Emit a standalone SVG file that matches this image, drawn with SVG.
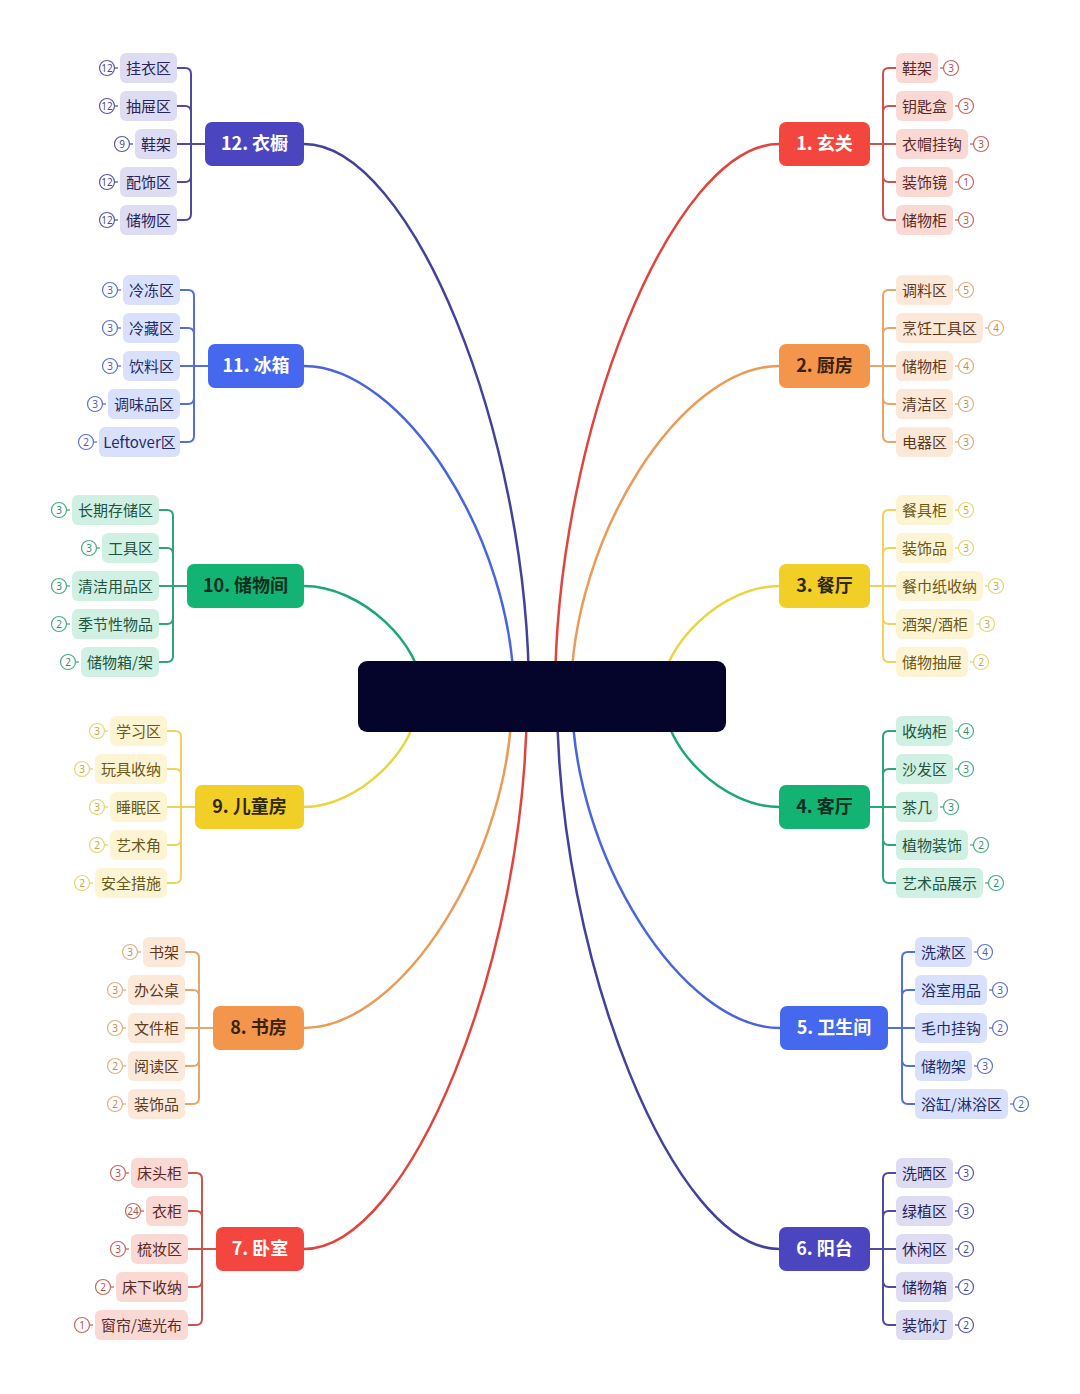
<svg xmlns="http://www.w3.org/2000/svg" width="1080" height="1394" viewBox="0 0 1080 1394">
<style>
.mt{font-family:"Noto Sans CJK SC","Noto Sans",sans-serif;font-size:18px;font-weight:600;text-anchor:middle}
.lt{font-family:"Noto Sans CJK SC","Noto Sans",sans-serif;font-size:15px;text-anchor:middle}
.bt{font-family:"Noto Sans","Liberation Sans",sans-serif;font-size:10px;text-anchor:middle}
.bc{fill:#fff;stroke-width:1.2}
.d{fill:none;stroke-width:1.3}
.con{fill:none;stroke-width:2.5;stroke-linecap:round}
.br{fill:none;stroke-width:2}
.cr{stroke:#e0443c}.co{stroke:#eb9b58}.cy{stroke:#e9d53f}.cg{stroke:#1aa874}.cb{stroke:#4965dc}.ci{stroke:#434199}
.sr{stroke:#c9554e}.so{stroke:#e5a56c}.sy{stroke:#ebd35c}.sg{stroke:#2ea577}.sb{stroke:#5470d8}.si{stroke:#4e4a9e}
.tr .m{fill:#f2463e}.tr .mt{fill:#fff}.tr .l{fill:#fad9d5}.tr .lt{fill:#5a2a26}.tr .bc,.tr .d{stroke:#c9655e}.tr .bt{fill:#b0524c}
.to .m{fill:#f3954a}.to .mt{fill:#3b220f}.to .l{fill:#fce8d8}.to .lt{fill:#5c3a1e}.to .bc,.to .d{stroke:#e0ae80}.to .bt{fill:#c48a55}
.ty .m{fill:#f1cf27}.ty .mt{fill:#2e2708}.ty .l{fill:#fdf4d3}.ty .lt{fill:#6a5818}.ty .bc,.ty .d{stroke:#e8d472}.ty .bt{fill:#c2ab3c}
.tg .m{fill:#13b374}.tg .mt{fill:#0b2e20}.tg .l{fill:#cff0e2}.tg .lt{fill:#1e5440}.tg .bc,.tg .d{stroke:#47ad86}.tg .bt{fill:#2f8e69}
.tb .m{fill:#4568ee}.tb .mt{fill:#fff}.tb .l{fill:#d9e0fb}.tb .lt{fill:#1f2c66}.tb .bc,.tb .d{stroke:#5d72d0}.tb .bt{fill:#4a5db8}
.ti .m{fill:#4b46bf}.ti .mt{fill:#fff}.ti .l{fill:#dddcf3}.ti .lt{fill:#26245a}.ti .bc,.ti .d{stroke:#5a57a5}.ti .bt{fill:#4a4890}
</style>
<rect width="1080" height="1394" fill="#ffffff"/>
<g id="connectors">
<path class="con ci" d="M304 144C410 144 529 431 529 696"/>
<path class="con cb" d="M304 366C402 366 514 538 514 696"/>
<path class="con cg" d="M304 586C360 586 423 643 423 696"/>
<path class="con cr" d="M779 144C674 144 555 431 555 696"/>
<path class="con co" d="M779 366C681 366 571 538 571 696"/>
<path class="con cy" d="M779 586C724 586 661 643 661 696"/>
<path class="con cy" d="M304 807C358 807 419 749 419 696"/>
<path class="con co" d="M304 1028C402 1028 512 855 512 696"/>
<path class="con cr" d="M304 1249C409 1249 527 961 527 696"/>
<path class="con cg" d="M779 807C724 807 663 749 663 696"/>
<path class="con cb" d="M780 1028C682 1028 572 855 572 696"/>
<path class="con ci" d="M779 1249C675 1249 557 961 557 696"/>
<path class="br sr" d="M870 144H896 M883 144V74Q883 68 889 68H896 M883 144V112Q883 106 889 106H896 M883 144V176Q883 182 889 182H896 M883 144V214Q883 220 889 220H896"/>
<path class="br so" d="M870 366H896 M883 366V296Q883 290 889 290H896 M883 366V334Q883 328 889 328H896 M883 366V398Q883 404 889 404H896 M883 366V436Q883 442 889 442H896"/>
<path class="br sy" d="M870 586H896 M883 586V516Q883 510 889 510H896 M883 586V554Q883 548 889 548H896 M883 586V618Q883 624 889 624H896 M883 586V656Q883 662 889 662H896"/>
<path class="br sg" d="M870 807H896 M883 807V737Q883 731 889 731H896 M883 807V775Q883 769 889 769H896 M883 807V839Q883 845 889 845H896 M883 807V877Q883 883 889 883H896"/>
<path class="br sb" d="M888 1028H915 M902 1028V958Q902 952 908 952H915 M902 1028V996Q902 990 908 990H915 M902 1028V1060Q902 1066 908 1066H915 M902 1028V1098Q902 1104 908 1104H915"/>
<path class="br si" d="M870 1249H896 M883 1249V1179Q883 1173 889 1173H896 M883 1249V1217Q883 1211 889 1211H896 M883 1249V1281Q883 1287 889 1287H896 M883 1249V1319Q883 1325 889 1325H896"/>
<path class="br si" d="M205 144H177 M191 144V74Q191 68 185 68H177 M191 144V112Q191 106 185 106H177 M191 144V176Q191 182 185 182H177 M191 144V214Q191 220 185 220H177"/>
<path class="br sb" d="M208 366H180 M194 366V296Q194 290 188 290H180 M194 366V334Q194 328 188 328H180 M194 366V398Q194 404 188 404H180 M194 366V436Q194 442 188 442H180"/>
<path class="br sg" d="M187 586H159 M173 586V516Q173 510 167 510H159 M173 586V554Q173 548 167 548H159 M173 586V618Q173 624 167 624H159 M173 586V656Q173 662 167 662H159"/>
<path class="br sy" d="M195 807H167 M181 807V737Q181 731 175 731H167 M181 807V775Q181 769 175 769H167 M181 807V839Q181 845 175 845H167 M181 807V877Q181 883 175 883H167"/>
<path class="br so" d="M213 1028H185 M199 1028V958Q199 952 193 952H185 M199 1028V996Q199 990 193 990H185 M199 1028V1060Q199 1066 193 1066H185 M199 1028V1098Q199 1104 193 1104H185"/>
<path class="br sr" d="M216 1249H188 M202 1249V1179Q202 1173 196 1173H188 M202 1249V1217Q202 1211 196 1211H188 M202 1249V1281Q202 1287 196 1287H188 M202 1249V1319Q202 1325 196 1325H188"/>
</g>
<g id="center"><rect x="358" y="661" width="368" height="71" rx="9" fill="#05052c"/></g>

<g id="n1" class="tr"><rect class="m" x="779" y="122" width="91" height="44" rx="7"/><text class="mt" x="824.5" y="150">1. 玄关</text></g>
<g id="n2" class="to"><rect class="m" x="779" y="344" width="91" height="44" rx="7"/><text class="mt" x="824.5" y="372">2. 厨房</text></g>
<g id="n3" class="ty"><rect class="m" x="779" y="564" width="91" height="44" rx="7"/><text class="mt" x="824.5" y="592">3. 餐厅</text></g>
<g id="n4" class="tg"><rect class="m" x="779" y="785" width="91" height="44" rx="7"/><text class="mt" x="824.5" y="813">4. 客厅</text></g>
<g id="n5" class="tb"><rect class="m" x="780" y="1006" width="108" height="44" rx="7"/><text class="mt" x="834" y="1034">5. 卫生间</text></g>
<g id="n6" class="ti"><rect class="m" x="779" y="1227" width="91" height="44" rx="7"/><text class="mt" x="824.5" y="1255">6. 阳台</text></g>
<g id="n7" class="tr"><rect class="m" x="216" y="1227" width="88" height="44" rx="7"/><text class="mt" x="260" y="1255">7. 卧室</text></g>
<g id="n8" class="to"><rect class="m" x="213" y="1006" width="91" height="44" rx="7"/><text class="mt" x="258.5" y="1034">8. 书房</text></g>
<g id="n9" class="ty"><rect class="m" x="195" y="785" width="109" height="44" rx="7"/><text class="mt" x="249.5" y="813">9. 儿童房</text></g>
<g id="n10" class="tg"><rect class="m" x="187" y="564" width="117" height="44" rx="7"/><text class="mt" x="245.5" y="592">10. 储物间</text></g>
<g id="n11" class="tb"><rect class="m" x="208" y="344" width="96" height="44" rx="7"/><text class="mt" x="256" y="372">11. 冰箱</text></g>
<g id="n12" class="ti"><rect class="m" x="205" y="122" width="99" height="44" rx="7"/><text class="mt" x="254.5" y="150">12. 衣橱</text></g>

<!-- group 1 -->
<g id="n1-1" class="tr"><rect class="l" x="896" y="53" width="42" height="30" rx="6"/><text class="lt" x="917" y="73.5">鞋架</text><path class="d" d="M940 68H943.5"/><circle class="bc" cx="951" cy="68" r="7.5"/><text class="bt" x="951" y="71.5">3</text></g>
<g id="n1-2" class="tr"><rect class="l" x="896" y="91" width="57" height="30" rx="6"/><text class="lt" x="924.5" y="111.5">钥匙盒</text><path class="d" d="M955 106H958.5"/><circle class="bc" cx="966" cy="106" r="7.5"/><text class="bt" x="966" y="109.5">3</text></g>
<g id="n1-3" class="tr"><rect class="l" x="896" y="129" width="72" height="30" rx="6"/><text class="lt" x="932" y="149.5">衣帽挂钩</text><path class="d" d="M970 144H973.5"/><circle class="bc" cx="981" cy="144" r="7.5"/><text class="bt" x="981" y="147.5">3</text></g>
<g id="n1-4" class="tr"><rect class="l" x="896" y="167" width="57" height="30" rx="6"/><text class="lt" x="924.5" y="187.5">装饰镜</text><path class="d" d="M955 182H958.5"/><circle class="bc" cx="966" cy="182" r="7.5"/><text class="bt" x="966" y="185.5">1</text></g>
<g id="n1-5" class="tr"><rect class="l" x="896" y="205" width="57" height="30" rx="6"/><text class="lt" x="924.5" y="225.5">储物柜</text><path class="d" d="M955 220H958.5"/><circle class="bc" cx="966" cy="220" r="7.5"/><text class="bt" x="966" y="223.5">3</text></g>
<!-- group 2 -->
<g id="n2-1" class="to"><rect class="l" x="896" y="275" width="57" height="30" rx="6"/><text class="lt" x="924.5" y="295.5">调料区</text><path class="d" d="M955 290H958.5"/><circle class="bc" cx="966" cy="290" r="7.5"/><text class="bt" x="966" y="293.5">5</text></g>
<g id="n2-2" class="to"><rect class="l" x="896" y="313" width="87" height="30" rx="6"/><text class="lt" x="939.5" y="333.5">烹饪工具区</text><path class="d" d="M985 328H988.5"/><circle class="bc" cx="996" cy="328" r="7.5"/><text class="bt" x="996" y="331.5">4</text></g>
<g id="n2-3" class="to"><rect class="l" x="896" y="351" width="57" height="30" rx="6"/><text class="lt" x="924.5" y="371.5">储物柜</text><path class="d" d="M955 366H958.5"/><circle class="bc" cx="966" cy="366" r="7.5"/><text class="bt" x="966" y="369.5">4</text></g>
<g id="n2-4" class="to"><rect class="l" x="896" y="389" width="57" height="30" rx="6"/><text class="lt" x="924.5" y="409.5">清洁区</text><path class="d" d="M955 404H958.5"/><circle class="bc" cx="966" cy="404" r="7.5"/><text class="bt" x="966" y="407.5">3</text></g>
<g id="n2-5" class="to"><rect class="l" x="896" y="427" width="57" height="30" rx="6"/><text class="lt" x="924.5" y="447.5">电器区</text><path class="d" d="M955 442H958.5"/><circle class="bc" cx="966" cy="442" r="7.5"/><text class="bt" x="966" y="445.5">3</text></g>
<!-- group 3 -->
<g id="n3-1" class="ty"><rect class="l" x="896" y="495" width="57" height="30" rx="6"/><text class="lt" x="924.5" y="515.5">餐具柜</text><path class="d" d="M955 510H958.5"/><circle class="bc" cx="966" cy="510" r="7.5"/><text class="bt" x="966" y="513.5">5</text></g>
<g id="n3-2" class="ty"><rect class="l" x="896" y="533" width="57" height="30" rx="6"/><text class="lt" x="924.5" y="553.5">装饰品</text><path class="d" d="M955 548H958.5"/><circle class="bc" cx="966" cy="548" r="7.5"/><text class="bt" x="966" y="551.5">3</text></g>
<g id="n3-3" class="ty"><rect class="l" x="896" y="571" width="87" height="30" rx="6"/><text class="lt" x="939.5" y="591.5">餐巾纸收纳</text><path class="d" d="M985 586H988.5"/><circle class="bc" cx="996" cy="586" r="7.5"/><text class="bt" x="996" y="589.5">3</text></g>
<g id="n3-4" class="ty"><rect class="l" x="896" y="609" width="78" height="30" rx="6"/><text class="lt" x="935" y="629.5">酒架/酒柜</text><path class="d" d="M976 624H979.5"/><circle class="bc" cx="987" cy="624" r="7.5"/><text class="bt" x="987" y="627.5">3</text></g>
<g id="n3-5" class="ty"><rect class="l" x="896" y="647" width="72" height="30" rx="6"/><text class="lt" x="932" y="667.5">储物抽屉</text><path class="d" d="M970 662H973.5"/><circle class="bc" cx="981" cy="662" r="7.5"/><text class="bt" x="981" y="665.5">2</text></g>
<!-- group 4 -->
<g id="n4-1" class="tg"><rect class="l" x="896" y="716" width="57" height="30" rx="6"/><text class="lt" x="924.5" y="736.5">收纳柜</text><path class="d" d="M955 731H958.5"/><circle class="bc" cx="966" cy="731" r="7.5"/><text class="bt" x="966" y="734.5">4</text></g>
<g id="n4-2" class="tg"><rect class="l" x="896" y="754" width="57" height="30" rx="6"/><text class="lt" x="924.5" y="774.5">沙发区</text><path class="d" d="M955 769H958.5"/><circle class="bc" cx="966" cy="769" r="7.5"/><text class="bt" x="966" y="772.5">3</text></g>
<g id="n4-3" class="tg"><rect class="l" x="896" y="792" width="42" height="30" rx="6"/><text class="lt" x="917" y="812.5">茶几</text><path class="d" d="M940 807H943.5"/><circle class="bc" cx="951" cy="807" r="7.5"/><text class="bt" x="951" y="810.5">3</text></g>
<g id="n4-4" class="tg"><rect class="l" x="896" y="830" width="72" height="30" rx="6"/><text class="lt" x="932" y="850.5">植物装饰</text><path class="d" d="M970 845H973.5"/><circle class="bc" cx="981" cy="845" r="7.5"/><text class="bt" x="981" y="848.5">2</text></g>
<g id="n4-5" class="tg"><rect class="l" x="896" y="868" width="87" height="30" rx="6"/><text class="lt" x="939.5" y="888.5">艺术品展示</text><path class="d" d="M985 883H988.5"/><circle class="bc" cx="996" cy="883" r="7.5"/><text class="bt" x="996" y="886.5">2</text></g>
<!-- group 5 -->
<g id="n5-1" class="tb"><rect class="l" x="915" y="937" width="57" height="30" rx="6"/><text class="lt" x="943.5" y="957.5">洗漱区</text><path class="d" d="M974 952H977.5"/><circle class="bc" cx="985" cy="952" r="7.5"/><text class="bt" x="985" y="955.5">4</text></g>
<g id="n5-2" class="tb"><rect class="l" x="915" y="975" width="72" height="30" rx="6"/><text class="lt" x="951" y="995.5">浴室用品</text><path class="d" d="M989 990H992.5"/><circle class="bc" cx="1000" cy="990" r="7.5"/><text class="bt" x="1000" y="993.5">3</text></g>
<g id="n5-3" class="tb"><rect class="l" x="915" y="1013" width="72" height="30" rx="6"/><text class="lt" x="951" y="1033.5">毛巾挂钩</text><path class="d" d="M989 1028H992.5"/><circle class="bc" cx="1000" cy="1028" r="7.5"/><text class="bt" x="1000" y="1031.5">2</text></g>
<g id="n5-4" class="tb"><rect class="l" x="915" y="1051" width="57" height="30" rx="6"/><text class="lt" x="943.5" y="1071.5">储物架</text><path class="d" d="M974 1066H977.5"/><circle class="bc" cx="985" cy="1066" r="7.5"/><text class="bt" x="985" y="1069.5">3</text></g>
<g id="n5-5" class="tb"><rect class="l" x="915" y="1089" width="93" height="30" rx="6"/><text class="lt" x="961.5" y="1109.5">浴缸/淋浴区</text><path class="d" d="M1010 1104H1013.5"/><circle class="bc" cx="1021" cy="1104" r="7.5"/><text class="bt" x="1021" y="1107.5">2</text></g>
<!-- group 6 -->
<g id="n6-1" class="ti"><rect class="l" x="896" y="1158" width="57" height="30" rx="6"/><text class="lt" x="924.5" y="1178.5">洗晒区</text><path class="d" d="M955 1173H958.5"/><circle class="bc" cx="966" cy="1173" r="7.5"/><text class="bt" x="966" y="1176.5">3</text></g>
<g id="n6-2" class="ti"><rect class="l" x="896" y="1196" width="57" height="30" rx="6"/><text class="lt" x="924.5" y="1216.5">绿植区</text><path class="d" d="M955 1211H958.5"/><circle class="bc" cx="966" cy="1211" r="7.5"/><text class="bt" x="966" y="1214.5">3</text></g>
<g id="n6-3" class="ti"><rect class="l" x="896" y="1234" width="57" height="30" rx="6"/><text class="lt" x="924.5" y="1254.5">休闲区</text><path class="d" d="M955 1249H958.5"/><circle class="bc" cx="966" cy="1249" r="7.5"/><text class="bt" x="966" y="1252.5">2</text></g>
<g id="n6-4" class="ti"><rect class="l" x="896" y="1272" width="57" height="30" rx="6"/><text class="lt" x="924.5" y="1292.5">储物箱</text><path class="d" d="M955 1287H958.5"/><circle class="bc" cx="966" cy="1287" r="7.5"/><text class="bt" x="966" y="1290.5">2</text></g>
<g id="n6-5" class="ti"><rect class="l" x="896" y="1310" width="57" height="30" rx="6"/><text class="lt" x="924.5" y="1330.5">装饰灯</text><path class="d" d="M955 1325H958.5"/><circle class="bc" cx="966" cy="1325" r="7.5"/><text class="bt" x="966" y="1328.5">2</text></g>
<!-- group 12 -->
<g id="n12-1" class="ti"><rect class="l" x="120" y="53" width="57" height="30" rx="6"/><text class="lt" x="148.5" y="73.5">挂衣区</text><path class="d" d="M118 68H114.5"/><circle class="bc" cx="107" cy="68" r="7.5"/><text class="bt" x="107" y="71.5">12</text></g>
<g id="n12-2" class="ti"><rect class="l" x="120" y="91" width="57" height="30" rx="6"/><text class="lt" x="148.5" y="111.5">抽屉区</text><path class="d" d="M118 106H114.5"/><circle class="bc" cx="107" cy="106" r="7.5"/><text class="bt" x="107" y="109.5">12</text></g>
<g id="n12-3" class="ti"><rect class="l" x="135" y="129" width="42" height="30" rx="6"/><text class="lt" x="156" y="149.5">鞋架</text><path class="d" d="M133 144H129.5"/><circle class="bc" cx="122" cy="144" r="7.5"/><text class="bt" x="122" y="147.5">9</text></g>
<g id="n12-4" class="ti"><rect class="l" x="120" y="167" width="57" height="30" rx="6"/><text class="lt" x="148.5" y="187.5">配饰区</text><path class="d" d="M118 182H114.5"/><circle class="bc" cx="107" cy="182" r="7.5"/><text class="bt" x="107" y="185.5">12</text></g>
<g id="n12-5" class="ti"><rect class="l" x="120" y="205" width="57" height="30" rx="6"/><text class="lt" x="148.5" y="225.5">储物区</text><path class="d" d="M118 220H114.5"/><circle class="bc" cx="107" cy="220" r="7.5"/><text class="bt" x="107" y="223.5">12</text></g>
<!-- group 11 -->
<g id="n11-1" class="tb"><rect class="l" x="123" y="275" width="57" height="30" rx="6"/><text class="lt" x="151.5" y="295.5">冷冻区</text><path class="d" d="M121 290H117.5"/><circle class="bc" cx="110" cy="290" r="7.5"/><text class="bt" x="110" y="293.5">3</text></g>
<g id="n11-2" class="tb"><rect class="l" x="123" y="313" width="57" height="30" rx="6"/><text class="lt" x="151.5" y="333.5">冷藏区</text><path class="d" d="M121 328H117.5"/><circle class="bc" cx="110" cy="328" r="7.5"/><text class="bt" x="110" y="331.5">3</text></g>
<g id="n11-3" class="tb"><rect class="l" x="123" y="351" width="57" height="30" rx="6"/><text class="lt" x="151.5" y="371.5">饮料区</text><path class="d" d="M121 366H117.5"/><circle class="bc" cx="110" cy="366" r="7.5"/><text class="bt" x="110" y="369.5">3</text></g>
<g id="n11-4" class="tb"><rect class="l" x="108" y="389" width="72" height="30" rx="6"/><text class="lt" x="144" y="409.5">调味品区</text><path class="d" d="M106 404H102.5"/><circle class="bc" cx="95" cy="404" r="7.5"/><text class="bt" x="95" y="407.5">3</text></g>
<g id="n11-5" class="tb"><rect class="l" x="99" y="427" width="81" height="30" rx="6"/><text class="lt" x="139.5" y="447.5">Leftover区</text><path class="d" d="M97 442H93.5"/><circle class="bc" cx="86" cy="442" r="7.5"/><text class="bt" x="86" y="445.5">2</text></g>
<!-- group 10 -->
<g id="n10-1" class="tg"><rect class="l" x="72" y="495" width="87" height="30" rx="6"/><text class="lt" x="115.5" y="515.5">长期存储区</text><path class="d" d="M70 510H66.5"/><circle class="bc" cx="59" cy="510" r="7.5"/><text class="bt" x="59" y="513.5">3</text></g>
<g id="n10-2" class="tg"><rect class="l" x="102" y="533" width="57" height="30" rx="6"/><text class="lt" x="130.5" y="553.5">工具区</text><path class="d" d="M100 548H96.5"/><circle class="bc" cx="89" cy="548" r="7.5"/><text class="bt" x="89" y="551.5">3</text></g>
<g id="n10-3" class="tg"><rect class="l" x="72" y="571" width="87" height="30" rx="6"/><text class="lt" x="115.5" y="591.5">清洁用品区</text><path class="d" d="M70 586H66.5"/><circle class="bc" cx="59" cy="586" r="7.5"/><text class="bt" x="59" y="589.5">3</text></g>
<g id="n10-4" class="tg"><rect class="l" x="72" y="609" width="87" height="30" rx="6"/><text class="lt" x="115.5" y="629.5">季节性物品</text><path class="d" d="M70 624H66.5"/><circle class="bc" cx="59" cy="624" r="7.5"/><text class="bt" x="59" y="627.5">2</text></g>
<g id="n10-5" class="tg"><rect class="l" x="81" y="647" width="78" height="30" rx="6"/><text class="lt" x="120" y="667.5">储物箱/架</text><path class="d" d="M79 662H75.5"/><circle class="bc" cx="68" cy="662" r="7.5"/><text class="bt" x="68" y="665.5">2</text></g>
<!-- group 9 -->
<g id="n9-1" class="ty"><rect class="l" x="110" y="716" width="57" height="30" rx="6"/><text class="lt" x="138.5" y="736.5">学习区</text><path class="d" d="M108 731H104.5"/><circle class="bc" cx="97" cy="731" r="7.5"/><text class="bt" x="97" y="734.5">3</text></g>
<g id="n9-2" class="ty"><rect class="l" x="95" y="754" width="72" height="30" rx="6"/><text class="lt" x="131" y="774.5">玩具收纳</text><path class="d" d="M93 769H89.5"/><circle class="bc" cx="82" cy="769" r="7.5"/><text class="bt" x="82" y="772.5">3</text></g>
<g id="n9-3" class="ty"><rect class="l" x="110" y="792" width="57" height="30" rx="6"/><text class="lt" x="138.5" y="812.5">睡眠区</text><path class="d" d="M108 807H104.5"/><circle class="bc" cx="97" cy="807" r="7.5"/><text class="bt" x="97" y="810.5">3</text></g>
<g id="n9-4" class="ty"><rect class="l" x="110" y="830" width="57" height="30" rx="6"/><text class="lt" x="138.5" y="850.5">艺术角</text><path class="d" d="M108 845H104.5"/><circle class="bc" cx="97" cy="845" r="7.5"/><text class="bt" x="97" y="848.5">2</text></g>
<g id="n9-5" class="ty"><rect class="l" x="95" y="868" width="72" height="30" rx="6"/><text class="lt" x="131" y="888.5">安全措施</text><path class="d" d="M93 883H89.5"/><circle class="bc" cx="82" cy="883" r="7.5"/><text class="bt" x="82" y="886.5">2</text></g>
<!-- group 8 -->
<g id="n8-1" class="to"><rect class="l" x="143" y="937" width="42" height="30" rx="6"/><text class="lt" x="164" y="957.5">书架</text><path class="d" d="M141 952H137.5"/><circle class="bc" cx="130" cy="952" r="7.5"/><text class="bt" x="130" y="955.5">3</text></g>
<g id="n8-2" class="to"><rect class="l" x="128" y="975" width="57" height="30" rx="6"/><text class="lt" x="156.5" y="995.5">办公桌</text><path class="d" d="M126 990H122.5"/><circle class="bc" cx="115" cy="990" r="7.5"/><text class="bt" x="115" y="993.5">3</text></g>
<g id="n8-3" class="to"><rect class="l" x="128" y="1013" width="57" height="30" rx="6"/><text class="lt" x="156.5" y="1033.5">文件柜</text><path class="d" d="M126 1028H122.5"/><circle class="bc" cx="115" cy="1028" r="7.5"/><text class="bt" x="115" y="1031.5">3</text></g>
<g id="n8-4" class="to"><rect class="l" x="128" y="1051" width="57" height="30" rx="6"/><text class="lt" x="156.5" y="1071.5">阅读区</text><path class="d" d="M126 1066H122.5"/><circle class="bc" cx="115" cy="1066" r="7.5"/><text class="bt" x="115" y="1069.5">2</text></g>
<g id="n8-5" class="to"><rect class="l" x="128" y="1089" width="57" height="30" rx="6"/><text class="lt" x="156.5" y="1109.5">装饰品</text><path class="d" d="M126 1104H122.5"/><circle class="bc" cx="115" cy="1104" r="7.5"/><text class="bt" x="115" y="1107.5">2</text></g>
<!-- group 7 -->
<g id="n7-1" class="tr"><rect class="l" x="131" y="1158" width="57" height="30" rx="6"/><text class="lt" x="159.5" y="1178.5">床头柜</text><path class="d" d="M129 1173H125.5"/><circle class="bc" cx="118" cy="1173" r="7.5"/><text class="bt" x="118" y="1176.5">3</text></g>
<g id="n7-2" class="tr"><rect class="l" x="146" y="1196" width="42" height="30" rx="6"/><text class="lt" x="167" y="1216.5">衣柜</text><path class="d" d="M144 1211H140.5"/><circle class="bc" cx="133" cy="1211" r="7.5"/><text class="bt" x="133" y="1214.5">24</text></g>
<g id="n7-3" class="tr"><rect class="l" x="131" y="1234" width="57" height="30" rx="6"/><text class="lt" x="159.5" y="1254.5">梳妆区</text><path class="d" d="M129 1249H125.5"/><circle class="bc" cx="118" cy="1249" r="7.5"/><text class="bt" x="118" y="1252.5">3</text></g>
<g id="n7-4" class="tr"><rect class="l" x="116" y="1272" width="72" height="30" rx="6"/><text class="lt" x="152" y="1292.5">床下收纳</text><path class="d" d="M114 1287H110.5"/><circle class="bc" cx="103" cy="1287" r="7.5"/><text class="bt" x="103" y="1290.5">2</text></g>
<g id="n7-5" class="tr"><rect class="l" x="95" y="1310" width="93" height="30" rx="6"/><text class="lt" x="141.5" y="1330.5">窗帘/遮光布</text><path class="d" d="M93 1325H89.5"/><circle class="bc" cx="82" cy="1325" r="7.5"/><text class="bt" x="82" y="1328.5">1</text></g>
</svg>
